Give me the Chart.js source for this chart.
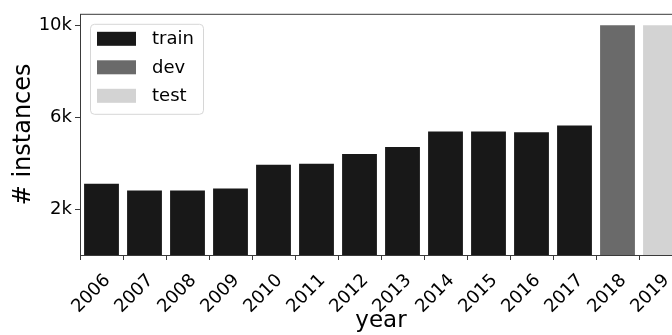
<!DOCTYPE html>
<html>
<head>
<meta charset="utf-8">
<script src="https://cdn.jsdelivr.net/npm/chart.js@4.4.0/dist/chart.umd.min.js"></script>
<style>
  html, body { margin: 0; padding: 0; background: #fff; overflow: hidden; }
  #wrap { width: 700px; height: 335px; }
</style>
</head>
<body>
<div id="wrap"><canvas id="myChart"></canvas></div>
<script>
// instances per year, split into train / dev / test
var years = ['2006', '2007', '2008', '2009', '2010', '2011', '2012', '2013', '2014', '2015', '2016', '2017', '2018', '2019'];
var trainCounts = [3100, 2810, 2810, 2900, 3930, 3970, 4400, 4700, 5380, 5380, 5340, 5640, null, null];
var devCounts = [null, null, null, null, null, null, null, null, null, null, null, null, 10000, null];
var testCounts = [null, null, null, null, null, null, null, null, null, null, null, null, null, 10000];
var yTicks = [2000, 6000, 10000];

var FONT = 'DejaVu Sans';
var spine = '#3a3a3a';

// box around the plot + legend in the upper left corner
var framePlugin = {
  id: 'frame',
  afterDraw: function(chart) {
    var ctx = chart.ctx;
    var a = chart.chartArea;
    ctx.save();
    ctx.strokeStyle = spine;
    ctx.lineWidth = 1;
    ctx.strokeRect(a.left + 0.5, a.top + 0.5, a.right - a.left, a.bottom - a.top);

    // legend
    var x = a.left + 10, y = a.top + 10, w = 113, h = 90;
    ctx.fillStyle = 'rgba(255,255,255,0.8)';
    ctx.strokeStyle = '#d6d6d6';
    ctx.beginPath();
    ctx.roundRect(x + 0.5, y + 0.5, w, h, 4);
    ctx.fill();
    ctx.stroke();
    ctx.font = '18px "' + FONT + '"';
    ctx.textBaseline = 'middle';
    chart.data.datasets.forEach(function(ds, i) {
      var cy = y + 15 + i * 28.5;
      ctx.fillStyle = ds.backgroundColor;
      ctx.fillRect(x + 7, cy - 7, 39, 14);
      ctx.fillStyle = '#000';
      ctx.fillText(ds.label, x + 62, cy + 1);
    });
    ctx.restore();
  }
};

var ctx = document.getElementById('myChart').getContext('2d');
var myChart = new Chart(ctx, {
  type: 'bar',
  data: {
    labels: years,
    datasets: [
      { label: 'train', data: trainCounts, backgroundColor: '#181818' },
      { label: 'dev', data: devCounts, backgroundColor: '#6a6a6a' },
      { label: 'test', data: testCounts, backgroundColor: '#d3d3d3' }
    ]
  },
  options: {
    responsive: true,
    maintainAspectRatio: false,
    animation: false,
    layout: { padding: { top: 12, right: 18, left: 0, bottom: 0 } },
    datasets: {
      bar: { grouped: false, barPercentage: 0.81, categoryPercentage: 1.0, skipNull: true }
    },
    plugins: {
      legend: { display: false },
      tooltip: { enabled: false }
    },
    scales: {
      x: {
        grid: { display: true, drawOnChartArea: false, drawTicks: true, tickLength: 5, color: spine },
        border: { display: false },
        ticks: {
          color: '#000',
          font: { family: FONT, size: 18 },
          minRotation: 45,
          maxRotation: 45,
          padding: 10,
          labelOffset: 6
        },
        title: {
          display: true,
          text: 'year',
          color: '#000',
          font: { family: FONT, size: 23 },
          padding: { top: 0, bottom: 0 }
        },
        afterFit: function(scale) { scale.height = 80; }
      },
      y: {
        min: 0,
        max: 10500,
        grid: { display: true, drawOnChartArea: false, drawTicks: true, tickLength: 5, color: spine },
        border: { display: false },
        afterBuildTicks: function(scale) {
          scale.ticks = yTicks.map(function(v) { return { value: v }; });
        },
        ticks: {
          color: '#000',
          font: { family: FONT, size: 18 },
          padding: 3,
          callback: function(v) { return (v / 1000) + 'k'; }
        },
        title: {
          display: true,
          text: '# instances',
          color: '#000',
          font: { family: FONT, size: 24 },
          padding: { top: 9, bottom: 0 }
        },
        afterFit: function(scale) { scale.width = 80; }
      }
    }
  },
  plugins: [framePlugin]
});
</script>
</body>
</html>
